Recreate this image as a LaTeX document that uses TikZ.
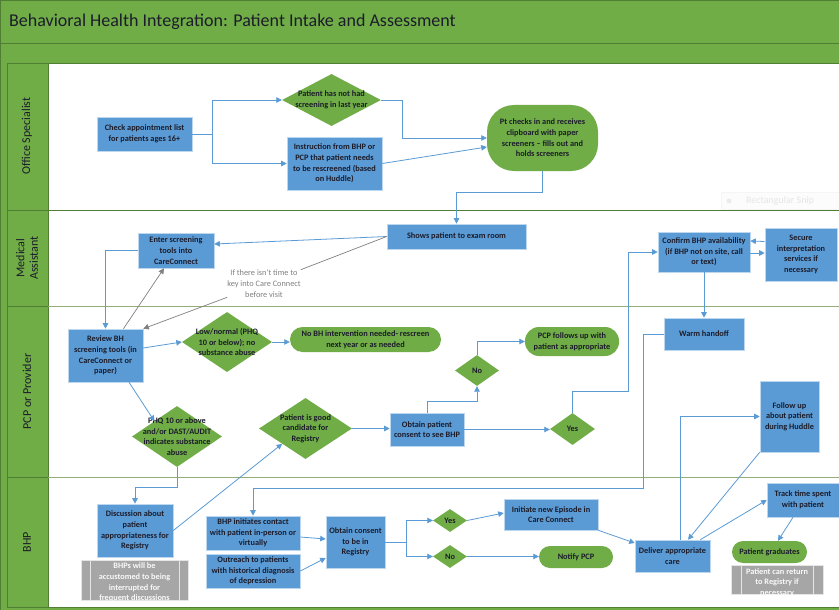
\documentclass[tikz,border=0pt]{standalone}
\usepackage{fontspec}
\setmainfont{Carlito}
\usetikzlibrary{arrows.meta,shapes.geometric,calc}
\definecolor{bgreen}{HTML}{70AD47}
\definecolor{dgreen}{HTML}{507E32}
\definecolor{sage}{HTML}{94AC78}
\definecolor{bblue}{HTML}{5B9BD5}
\definecolor{lblue}{HTML}{BDD7EE}
\definecolor{txt}{HTML}{1C1C2A}
\definecolor{ngray}{HTML}{808080}
\definecolor{ggray}{HTML}{A6A6A6}
\tikzset{
  bodyfont/.style={font=\bfseries\fontsize{8.3}{10.7}\selectfont},
  box/.style={bodyfont, draw=lblue, line width=0.6pt, fill=bblue, inner sep=0pt, align=center, text=txt},
  dia/.style={diamond, draw=none, fill=bgreen, inner sep=0pt},
  lab/.style={bodyfont, align=center, text=txt, inner sep=0pt},
  term/.style={bodyfont, fill=bgreen, inner sep=0pt, align=center, text=txt},
  gnote/.style={fill=ggray, draw=white!80!gray, line width=0.6pt, inner sep=0pt},
  gtext/.style={bodyfont, text=white!95!gray, align=center, inner sep=0pt},
  ntext/.style={font=\fontsize{8.3}{10.7}\selectfont, text=ngray, align=center, inner sep=0pt},
  lanelab/.style={font=\fontsize{12}{13.5}\selectfont, text=txt, align=center, rotate=90, inner sep=0pt},
  arr/.style={draw=bblue, line width=0.8pt, -{Triangle[width=5.5pt,length=5.5pt]}},
  garr/.style={draw=ngray, line width=0.7pt, -{Triangle[width=5.5pt,length=5.5pt]}},
  gline/.style={draw=ngray, line width=0.7pt},
}
\begin{document}
\begin{tikzpicture}[x=1pt,y=-1pt]
\useasboundingbox (0,0) rectangle (839,610);
% frame
\fill[bgreen] (0,0) rectangle (839,610);
\draw[dgreen, line width=0.8pt] (0,0.5) -- (839,0.5) (0.5,0) -- (0.5,610) (0,43) -- (839,43);
\fill[white] (48,63) rectangle (839,607);
\draw[dgreen, line width=0.8pt] (7,63) -- (839,63) (7,210) -- (839,210) (7,607) -- (839,607)
  (7,63) -- (7,607) (48,63) -- (48,607);
\draw[sage, line width=0.8pt] (48,306) -- (839,306) (48,477) -- (839,477);
\draw[dgreen, line width=0.8pt] (7,306) -- (48,306) (7,477) -- (48,477);
\node[anchor=west, font=\fontsize{18}{20}\selectfont, text=txt, inner sep=0pt] (title) at (9,22) {Behavioral Health Integration: Patient Intake and Assessment};
% lane labels
\node[lanelab] (l1) at (27,136) {Office Specialist};
\node[lanelab] (l2) at (27,258) {Medical\\Assistant};
\node[lanelab] (l3) at (27,391.5) {PCP or Provider};
\node[lanelab] (l4) at (27,542) {BHP};
% faint watermark
\node[draw=black!4, fill=black!1, minimum width=118pt, minimum height=17pt, inner sep=0pt] (wm) at (780,201) {};
\node[anchor=west, font=\fontsize{10}{12}\selectfont, text=black!10, inner sep=0pt] (wmt) at (746,201) {Rectangular Snip};
\fill[black!8] (729,201) circle (2.5);

% Office Specialist
\node[box, minimum width=95pt, minimum height=34pt] (A) at (144.5,134) {Check appointment list\\for patients ages 16+};
\node[dia, minimum width=99pt, minimum height=52pt, label={[lab]center:{Patient has not had\\screening in last year}}] (D1) at (331.5,100) {};
\node[box, minimum width=95pt, minimum height=53pt] (B) at (334.5,163.5) {Instruction from BHP or\\PCP that patient needs\\to be rescreened (based\\on Huddle)};
\node[term, rounded corners=27pt, minimum width=111pt, minimum height=66pt] (C) at (542.5,138) {Pt checks in and receives\\clipboard with paper\\screeners -- fills out and\\holds screeners};

% Medical Assistant
\node[box, minimum width=139pt, minimum height=25pt] (E) at (456.5,236.5) {Shows patient to exam room};
\node[box, minimum width=76pt, minimum height=35pt] (F) at (176,250.5) {Enter screening\\tools into\\CareConnect};
\node[ntext] (note1) at (264,283.5) {If there isn’t time to\\key into Care Connect\\before visit};
\node[box, minimum width=92pt, minimum height=40pt] (H) at (704,252) {Confirm BHP availability\\(if BHP not on site, call\\or text)};
\node[box, minimum width=72pt, minimum height=53pt] (I) at (801,254.5) {Secure\\interpretation\\services if\\necessary};

% PCP
\node[box, minimum width=75pt, minimum height=53pt] (G) at (105.5,355.5) {Review BH\\screening tools (in\\CareConnect or\\paper)};
\node[dia, minimum width=90pt, minimum height=60pt, label={[lab]center:{Low/normal (PHQ\\10 or below); no\\substance abuse}}] (D2) at (227,342) {};
\node[term, rounded corners=12.5pt, minimum width=151pt, minimum height=25pt] (R1) at (365.5,339.5) {No BH intervention needed- rescreen\\next year or as needed};
\node[dia, minimum width=90pt, minimum height=61pt, label={[lab]center:{PHQ 10 or above\\and/or DAST/AUDIT\\indicates substance\\abuse}}] (D3) at (177,436.5) {};
\node[dia, minimum width=93pt, minimum height=61pt, label={[lab]center:{Patient is good\\candidate for\\Registry}}] (D4) at (305.5,428.5) {};
\node[box, minimum width=74pt, minimum height=33pt] (J) at (427,429.5) {Obtain patient\\consent to see BHP};
\node[dia, minimum width=44pt, minimum height=31pt, label={[lab]center:{No}}] (D5) at (477,370.5) {};
\node[term, rounded corners=14pt, minimum width=94pt, minimum height=29pt] (R2) at (572,341.5) {PCP follows up with\\patient as appropriate};
\node[dia, minimum width=45pt, minimum height=32pt, label={[lab]center:{Yes}}] (D6) at (572.5,429) {};
\node[box, minimum width=80pt, minimum height=32pt] (K) at (704,334) {Warm handoff};
\node[box, minimum width=59pt, minimum height=71pt] (M) at (789.5,416.5) {Follow up\\about patient\\during Huddle};

% BHP
\node[box, minimum width=76pt, minimum height=53pt] (N) at (135,530.5) {Discussion about\\patient\\appropriateness for\\Registry};
\node[gnote, minimum width=107pt, minimum height=40pt] (N2) at (134.5,580) {};
\draw[white!80!gray, line width=0.6pt] ($(N2.north west)+(10,0)$) -- ($(N2.south west)+(10,0)$)
  ($(N2.north east)+(-9,0)$) -- ($(N2.south east)+(-9,0)$);
\begin{scope}
\clip (N2.south west) rectangle (N2.north east);
\node[gtext] (N2t) at (134.5,582.5) {BHPs will be\\accustomed to being\\interrupted for\\frequent discussions};
\end{scope}
\node[box, minimum width=94pt, minimum height=34pt] (L) at (253,533) {BHP initiates contact\\with patient in-person or\\virtually};
\node[box, minimum width=94pt, minimum height=34pt] (O) at (253,571) {Outreach to patients\\with historical diagnosis\\of depression};
\node[box, minimum width=59pt, minimum height=52pt] (P) at (355.5,542) {Obtain consent\\to be in\\Registry};
\node[dia, minimum width=34pt, minimum height=23pt, label={[lab]center:{Yes}}] (D7) at (450,520.5) {};
\node[dia, minimum width=34pt, minimum height=23pt, label={[lab]center:{No}}] (D8) at (450,556.5) {};
\node[box, minimum width=94pt, minimum height=31pt] (Q) at (551,514.5) {Initiate new Episode in\\Care Connect};
\node[term, rounded corners=11pt, minimum width=74pt, minimum height=22pt] (R3) at (576,557) {Notify PCP};
\node[box, minimum width=75pt, minimum height=32pt] (S) at (672.5,556) {Deliver appropriate\\care};
\node[box, minimum width=72pt, minimum height=34pt] (T) at (803,500) {Track time spent\\with patient};
\node[term, rounded corners=11pt, minimum width=75pt, minimum height=22pt] (U) at (769.5,552) {Patient graduates};
\node[gnote, minimum width=92pt, minimum height=29pt] (N3) at (777,579.5) {};
\draw[white!80!gray, line width=0.6pt] ($(N3.north west)+(11,0)$) -- ($(N3.south west)+(11,0)$)
  ($(N3.north east)+(-10,0)$) -- ($(N3.south east)+(-10,0)$);
\begin{scope}
\clip (N3.south west) rectangle (N3.north east);
\node[gtext] (N3t) at (777,582.5) {Patient can return\\to Registry if\\necessary};
\end{scope}

% connectors
\draw[arr] (A.east) -- ++(20,0) |- (D1.west);
\draw[arr] (A.east) -- ++(20,0) |- (B.west);
\draw[arr] (D1.east) -- ++(21,0) |- (C.west);
\draw[arr] (B.east) -- ($(C.west)+(0,9)$);
\draw[arr] (C.south) -- ++(0,21) -| (E.north);
\draw[arr] (E.west) -- ($(F.east)+(0,-6.5)$);
\draw[gline] (E.west) -- (note1.north east);
\draw[garr] (note1.south west) -- (G.north east);
\draw[garr] ($(G.north)+(18,0)$) -- ($(F.south)+(-12,0)$);
\draw[arr] (F.west) -| (G.north);
\draw[arr] ($(G.east)+(0,-7.5)$) -- (D2.west);
\draw[arr] (D2.east) -- (D2.east -| R1.west);
\draw[arr] ($(G.south)+(23.5,0)$) -- (D3.north west);
\draw[arr] (D3.south) -- ++(0,20) -| (N.north);
\draw[arr] (N.east) -- (D4.south west);
\draw[arr] (D4.east) -- (D4.east -| J.west);
\draw[arr] (J.north) -- ++(0,-11) -| (D5.south);
\draw[arr] (D5.north) |- (R2.west);
\draw[arr] (J.east) -- (J.east -| D6.west);
\draw[arr] (D6.north) -- ++(0,-21) -- ++(55.5,0) |- (H.west);
\draw[arr] ($(I.west)+(0,-13)$) -- ($(H.east)+(0,-11)$);
\draw[arr] ($(H.east)+(0,1)$) -- ($(I.west)+(0,-1.5)$);
\draw[arr] (H.south) -- (K.north);
\draw[arr] (K.west) -- ++(-20,0) -- ++(0,154) -| (L.north);
\draw[arr] ($(L.east)+(0,4)$) -- ($(P.west)+(0,-3)$);
\draw[arr] (O.east) -- ($(P.west)+(0,16)$);
\draw[arr] (P.east) -- ++(21,0) |- (D7.west);
\draw[arr] (P.east) -- ++(21,0) |- (D8.west);
\draw[arr] (D7.east) -- ($(Q.west)+(0,-1.5)$);
\draw[arr] (D8.east) -- (D8.east -| R3.west);
\draw[arr] (Q.south east) -- ($(S.west)+(0,-13)$);
\draw[arr] ($(S.north)+(7.5,0)$) |- (M.west);
\draw[arr] (M.south west) -- ($(S.north)+(15.5,0)$);
\draw[arr] ($(S.north east)+(-10,0)$) -- (T.west);
\draw[arr] ($(T.south)+(-10,0)$) -- ($(U.north)+(8.5,0)$);
\end{tikzpicture}
\end{document}
